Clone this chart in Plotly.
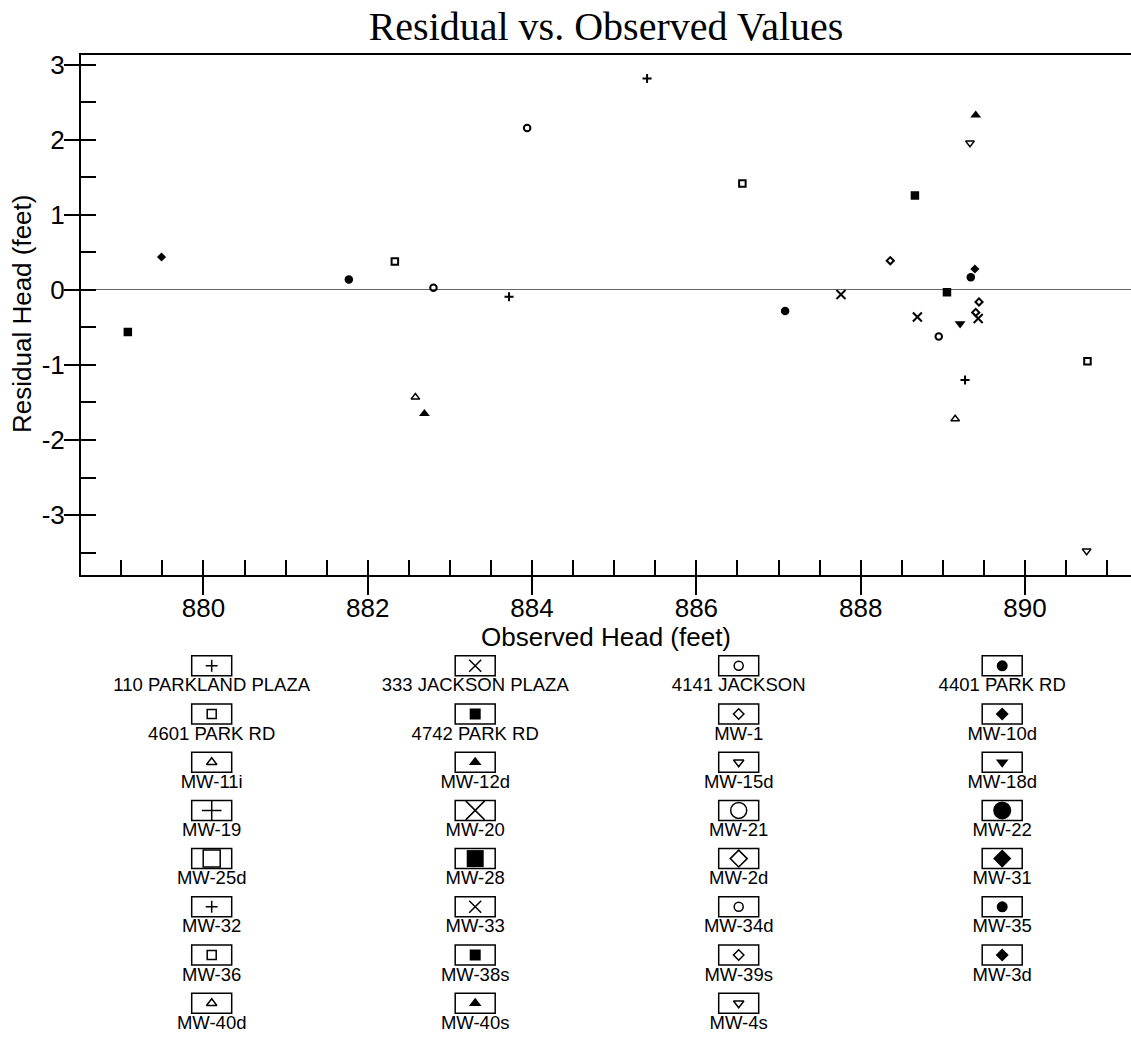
import plotly.graph_objects as go

# ---------------- data ----------------
well_names = [
    "110 PARKLAND PLAZA", "333 JACKSON PLAZA", "4141 JACKSON", "4401 PARK RD",
    "4601 PARK RD", "4742 PARK RD", "MW-1", "MW-10d",
    "MW-11i", "MW-12d", "MW-15d", "MW-18d",
    "MW-19", "MW-20", "MW-21", "MW-22",
    "MW-25d", "MW-28", "MW-2d", "MW-31",
    "MW-32", "MW-33", "MW-34d", "MW-35",
    "MW-36", "MW-38s", "MW-39s", "MW-3d",
    "MW-40d", "MW-40s", "MW-4s",
]
observed_head = [
    [885.40], [887.76], [883.94], [881.77],
    [886.56], [879.08], [888.36], [879.49],
    [882.58], [882.69], [889.33], [889.21],
    [883.72], [888.69], [882.80], [887.08],
    [882.33], [888.66], [889.44], [],
    [889.27], [889.43], [888.95], [889.34],
    [890.76], [889.05], [889.40], [889.39],
    [889.15], [889.40], [890.75],
]
residual_head = [
    [2.82], [-0.06], [2.16], [0.14],
    [1.42], [-0.56], [0.39], [0.44],
    [-1.43], [-1.65], [1.96], [-0.45],
    [-0.09], [-0.36], [0.03], [-0.28],
    [0.38], [1.26], [-0.16], [],
    [-1.20], [-0.38], [-0.62], [0.17],
    [-0.95], [-0.03], [-0.30], [0.28],
    [-1.72], [2.33], [-3.48],
]
x_tick_vals = [880, 882, 884, 886, 888, 890]
x_tick_text = ["880", "882", "884", "886", "888", "890"]
y_tick_vals = [-3, -2, -1, 0, 1, 2, 3]
y_tick_text = ["-3", "-2", "-1", "0", "1", "2", "3"]

# ---------------- styles ----------------
W, H = 1131, 1038
FONT = "Liberation Sans, Arial, sans-serif"
SERIF = "Liberation Serif, Times New Roman, serif"
X_RANGE = [878.51, 891.29]
Y_RANGE = [-3.8, 3.133]

KINDS = ["plus", "x", "circle-o", "circle", "square-o", "square",
         "diamond-o", "diamond", "tri-o", "tri", "tridown-o", "tridown"]
# symbol, plot size, plot line width, legend small size, legend big size, legend lw
STYLE = {
    "plus":      ("cross-thin", 6.5, 2, 8.5, 14, 1.5),
    "x":         ("x-thin", 9, 2, 12, 19, 1.5),
    "circle-o":  ("circle-open", 6.5, 2, 9, 16, 1.5),
    "circle":    ("circle", 8.5, 0, 11, 18, 0),
    "square-o":  ("square-open", 6.5, 2, 9, 17, 1.5),
    "square":    ("square", 8.5, 0, 11, 17, 0),
    "diamond-o": ("diamond-open", 5.5, 2, 8, 13, 1.5),
    "diamond":   ("diamond", 7, 0, 10, 14, 0),
    "tri-o":     ("triangle-up-open", 7.5, 1.5, 9, 15, 1.5),
    "tri":       ("triangle-up", 9.5, 0, 11, 16, 0),
    "tridown-o": ("triangle-down-open", 7.5, 1.5, 9, 15, 1.5),
    "tridown":   ("triangle-down", 9.5, 0, 11, 16, 0),
}


def kind_of(i):
    if i < 12:
        return KINDS[i], False
    if i < 20:
        return KINDS[i - 12], True
    return KINDS[i - 20], False


fig = go.Figure()

# main scatter traces
for i, name in enumerate(well_names):
    k, _ = kind_of(i)
    sym, psize, plw, _, _, _ = STYLE[k]
    fig.add_trace(go.Scatter(
        x=observed_head[i], y=residual_head[i], mode="markers", name=name,
        xaxis="x", yaxis="y", showlegend=False, cliponaxis=False,
        marker=dict(symbol=sym, size=psize, color="black", opacity=1,
                    line=dict(color="black", width=plw)),
    ))

# empty trace for the overlay (inside minor ticks) axes
fig.add_trace(go.Scatter(x=[None], y=[None], xaxis="x2", yaxis="y2",
                         showlegend=False, hoverinfo="skip"))

# ---------------- custom legend ----------------
LEG_X0, LEG_DX = 211.7, 263.5
LEG_Y0, LEG_DY = 665.8, 48.2
BOX_W, BOX_H = 40, 20
LABEL_DY = 21
NCOL = 4

lx, ly, lsym, lsize, llw, tx, ty = [], [], [], [], [], [], []
for i, name in enumerate(well_names):
    col, row = i % NCOL, i // NCOL
    cx = LEG_X0 + col * LEG_DX
    cy = LEG_Y0 + row * LEG_DY
    k, big = kind_of(i)
    sym, _, _, ss, bs, lw = STYLE[k]
    lx.append(cx)
    ly.append(cy)
    lsym.append(sym)
    lsize.append(bs if big else ss)
    llw.append(lw)
    tx.append(cx)
    ty.append(cy + LABEL_DY)
    fig.add_shape(type="rect", xref="x3", yref="y3",
                  x0=cx - BOX_W / 2, x1=cx + BOX_W / 2,
                  y0=cy - BOX_H / 2, y1=cy + BOX_H / 2,
                  line=dict(color="black", width=1.5), fillcolor="white",
                  layer="below")

fig.add_trace(go.Scatter(
    x=lx, y=ly, mode="markers", xaxis="x3", yaxis="y3", showlegend=False,
    hoverinfo="skip", cliponaxis=False,
    marker=dict(symbol=lsym, size=lsize, color="black", opacity=1,
                line=dict(color="black", width=llw)),
))
fig.add_trace(go.Scatter(
    x=tx, y=ty, mode="text", text=well_names, xaxis="x3", yaxis="y3",
    showlegend=False, hoverinfo="skip", cliponaxis=False,
    textposition="middle center",
    textfont=dict(family=FONT, size=18.5, color="black"),
))

# ---------------- layout ----------------
PLOT_L, PLOT_T, PLOT_B = 81, 55, 575
xdom = [PLOT_L / W, 1.0]
ydom = [1 - PLOT_B / H, 1 - PLOT_T / H]
tickfont = dict(family=FONT, size=26, color="black")

fig.update_layout(
    width=W, height=H, autosize=False,
    margin=dict(l=0, r=0, t=0, b=0, pad=0),
    paper_bgcolor="white", plot_bgcolor="white",
    showlegend=False,
    title=dict(text="Residual vs. Observed Values",
               font=dict(family=SERIF, size=40, color="black"),
               x=606 / W, xanchor="center", xref="paper",
               y=1 - 26 / H, yanchor="middle", yref="container"),
    xaxis=dict(domain=xdom, range=X_RANGE, anchor="y",
               tickmode="array", tickvals=x_tick_vals, ticktext=x_tick_text,
               ticks="outside", ticklen=18, tickwidth=2, tickcolor="black",
               ticklabelstandoff=-9,
               showline=True, linewidth=2, linecolor="black", mirror=True,
               showgrid=False, zeroline=False, tickfont=tickfont,
               automargin=False, fixedrange=True),
    yaxis=dict(domain=ydom, range=Y_RANGE, anchor="x",
               tickmode="array", tickvals=y_tick_vals, ticktext=y_tick_text,
               ticks="outside", ticklen=15, tickwidth=2, tickcolor="black",
               ticklabelstandoff=-6,
               showline=True, linewidth=2, linecolor="black",
               showgrid=False, zeroline=True, zerolinecolor="#666666",
               zerolinewidth=1, tickfont=tickfont,
               automargin=False, fixedrange=True),
    xaxis2=dict(overlaying="x", range=X_RANGE, anchor="y", side="bottom",
                tickmode="linear", tick0=880, dtick=0.5,
                ticks="inside", ticklen=15, tickwidth=2, tickcolor="black",
                showticklabels=False, showline=False, showgrid=False,
                zeroline=False, automargin=False, fixedrange=True),
    yaxis2=dict(overlaying="y", range=Y_RANGE, anchor="x", side="left",
                tickmode="linear", tick0=0, dtick=0.5,
                ticks="inside", ticklen=15, tickwidth=2, tickcolor="black",
                showticklabels=False, showline=False, showgrid=False,
                zeroline=False, automargin=False, fixedrange=True),
    xaxis3=dict(domain=[0, 1], range=[0, W], anchor="y3", visible=False,
                fixedrange=True),
    yaxis3=dict(domain=[0, 1 - 645 / H], range=[H, 645], anchor="x3",
                visible=False, fixedrange=True),
    annotations=[
        dict(text="Observed Head (feet)", xref="paper", yref="paper",
             x=606 / W, y=1 - 637 / H, xanchor="center", yanchor="middle",
             showarrow=False, font=dict(family=FONT, size=26, color="black")),
        dict(text="Residual Head (feet)", xref="paper", yref="paper",
             x=22 / W, y=1 - 314 / H, xanchor="center", yanchor="middle",
             textangle=-90, showarrow=False,
             font=dict(family=FONT, size=26, color="black")),
    ],
)

fig.write_html("out.html")
